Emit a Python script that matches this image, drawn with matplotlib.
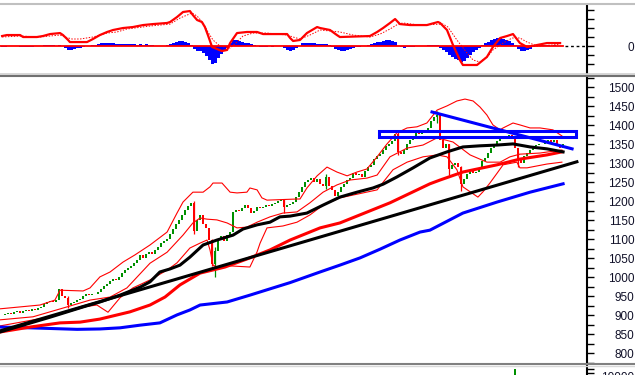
import numpy as np
import matplotlib.pyplot as plt
from matplotlib.lines import Line2D
from matplotlib.patches import Rectangle

plt.rcParams['font.family'] = ['Liberation Sans', 'DejaVu Sans']

# daily closes (index points), one per session
closes = [
    900, 903, 906, 904, 908, 911, 907, 912, 915, 912,
    916, 914, 918, 922, 930, 934, 937, 936, 941, 968,
    950, 945, 928, 932, 936, 940, 944, 950, 956, 953,
    957, 955, 962, 970, 976, 982, 990, 995, 992, 1000,
    1012, 1020, 1025, 1030, 1038, 1046, 1058, 1052, 1062, 1066,
    1060, 1072, 1080, 1090, 1096, 1102, 1115, 1128, 1140, 1150,
    1165, 1178, 1188, 1196, 1122, 1150, 1165, 1140, 1130, 1098,
    1035, 1070, 1100, 1108, 1095, 1112, 1118, 1172, 1178, 1175,
    1183, 1190, 1182, 1168, 1175, 1185, 1183, 1186, 1190, 1188,
    1192, 1196, 1200, 1203, 1185, 1190, 1192, 1198, 1210, 1225,
    1238, 1250, 1255, 1262, 1250, 1258, 1245, 1240, 1265, 1240,
    1230, 1215, 1225, 1238, 1245, 1255, 1262, 1275, 1270, 1272,
    1265, 1280, 1290, 1295, 1310, 1318, 1325, 1335, 1345, 1350,
    1358, 1378, 1330, 1325, 1335, 1352, 1360, 1372, 1380, 1377,
    1385, 1388, 1392, 1410, 1422, 1428, 1362, 1340, 1350, 1285,
    1295, 1300, 1290, 1245, 1258, 1272, 1280, 1275, 1278, 1288,
    1305, 1315, 1328, 1340, 1352, 1358, 1368, 1372, 1365, 1375,
    1370, 1340, 1310, 1300, 1318, 1328, 1335, 1345, 1348, 1352,
    1350, 1355, 1360, 1356, 1362, 1345, 1340, 1350,
]

# sessions with long shadows
wick_i = [22, 64, 70, 71, 94, 108, 132, 145, 149, 153, 172]
wick_hi = [950, 1200, 1100, 1080, 1205, 1272, 1382, 1437, 1352, 1292, 1330]
wick_lo = [918, 1115, 1030, 1002, 1168, 1232, 1322, 1405, 1268, 1228, 1290]

# bollinger bands (session, price)
bb_up_x = [-0.7, 12.6, 17.6, 19.3, 27, 29.3, 32.6, 36, 40.3, 44.3, 49.3, 55, 58.3, 60.3, 63.6,
           67, 69.3, 70.3, 73.3, 76, 78.3, 81.6, 82.6, 85, 86.6, 88.3, 98.3, 99.3, 101.6, 105,
           108.3, 111.6, 115, 118.3, 121.6, 125, 128.3, 131.6, 135, 138.3, 141.6, 145, 148.3,
           151.6, 154.3, 157, 159.3, 161.6, 163.6, 166, 167, 170.3, 172.6, 176, 179.3, 183.6, 186.6]
bb_up = [917, 927, 940, 966, 964, 972, 1001, 1014, 1040, 1059, 1085, 1119, 1169, 1198, 1224,
         1224, 1238, 1248, 1248, 1224, 1222, 1224, 1235, 1230, 1209, 1203, 1206, 1206, 1235, 1267,
         1290, 1277, 1267, 1277, 1285, 1317, 1351, 1380, 1393, 1396, 1406, 1440, 1451,
         1464, 1469, 1464, 1448, 1427, 1401, 1388, 1393, 1406, 1401, 1393, 1393, 1388, 1372]
bb_mid_x = [-0.7, 10.3, 21.6, 29.3, 36, 41.6, 49.3, 55, 60.3, 63.6, 66, 68.3, 71.6, 75, 78.3,
            81.6, 85, 89.3, 93.6, 98.3, 102.6, 107, 111.6, 116, 121.6, 125, 129.3, 135, 140.3,
            145, 150.3, 156, 161.6, 166, 169.3, 172.6, 179.3, 186.6]
bb_mid = [888, 896, 922, 940, 948, 972, 1037, 1066, 1111, 1143, 1156, 1153, 1151, 1143, 1130,
          1132, 1145, 1159, 1169, 1172, 1196, 1224, 1243, 1256, 1261, 1269, 1317, 1340, 1348,
          1367, 1356, 1322, 1303, 1303, 1317, 1324, 1327, 1335]
bb_lo_x = [-0.7, 16, 27, 31.6, 35.3, 39.3, 43.6, 49.3, 55, 58.3, 62.6, 66, 68.3, 69.3, 70.3,
           71.6, 76, 82.6, 85, 86, 88.3, 93.6, 98.3, 102.6, 107, 112.6, 120.3, 125, 130.3, 135,
           140.3, 145, 148.3, 151.6, 153.6, 156, 158.6, 160.3, 162.6, 165, 167, 171.6, 172.6,
           175, 181.6, 186.6]
bb_lo = [872, 896, 922, 927, 908, 946, 972, 993, 1019, 1038, 1077, 1090, 1098, 1072, 1032,
         1027, 1030, 1027, 1067, 1090, 1130, 1135, 1145, 1164, 1190, 1209, 1222, 1230, 1283, 1303,
         1317, 1322, 1317, 1283, 1238, 1225, 1211, 1225, 1248, 1274, 1296, 1303, 1288,
         1288, 1298, 1303]

# moving averages (session, price)
ma_blk_x = [-0.7, 16, 27, 32.6, 39.3, 46, 49.3, 52.6, 56, 59.3, 62.6, 67, 71.6, 77, 80.3, 85,
            89.3, 92.6, 96, 101.6, 107, 112.6, 118.3, 123.6, 127, 131.6, 137, 142.6, 148.3,
            153.6, 159.3, 165, 170.3, 176, 181.6, 187]
ma_blk = [856, 895, 922, 935, 953, 974, 988, 1014, 1022, 1032, 1053, 1085, 1098, 1111, 1127, 1138,
          1145, 1159, 1161, 1169, 1190, 1211, 1224, 1235, 1245, 1264, 1288, 1314, 1330,
          1343, 1346, 1348, 1351, 1343, 1338, 1330]
ma_red_x = [-0.7, 9.3, 19.3, 26, 32.6, 42.6, 49.3, 54.3, 59.3, 66, 74.3, 82.6, 89.3, 96, 106,
            112.6, 129.3, 142.6, 146, 153.6, 165, 172.6, 181.6, 186.6]
ma_red = [856, 869, 880, 882, 890, 909, 927, 948, 980, 1011, 1027, 1051, 1072, 1098, 1130,
          1143, 1196, 1246, 1256, 1277, 1296, 1311, 1322, 1330]
ma_blu_x = [-0.7, 9.3, 25, 32.6, 39.3, 46, 52.6, 58.3, 62.6, 66, 75, 82.6, 90.3, 96, 106, 112.6,
            119.3, 126, 132.6, 139.3, 142.6, 153.6, 165, 176, 187]
ma_blu = [869, 867, 863, 864, 867, 874, 880, 901, 914, 927, 935, 953, 972, 986, 1014, 1032,
          1051, 1074, 1098, 1119, 1124, 1169, 1198, 1224, 1246]

# drawn trend lines and resistance zone
trend_up_x, trend_up = [-0.7, 191.6], [859, 1304]
trend_dn_x, trend_dn = [143.3, 190], [1435, 1338]
zone_x, zone_y = [125.5, 191.3], [1369, 1384]

# MACD panel
macd_x = [0, 1.6, 6, 7, 11.6, 13.6, 16, 19.3, 20.3, 22, 22.6, 28.3, 30.3, 32.6, 35, 37, 40.3,
          43.6, 47, 50.3, 55, 56, 58.3, 60.3, 62.6, 63.6, 65, 66.6, 67.6, 68.6, 70, 73.3, 75, 76,
          78.3, 81.6, 85, 87, 95, 96, 97, 99.3, 101.6, 105, 106, 109.3, 111.6, 112.6, 122.6, 125,
          127, 129.3, 131, 132.6, 136, 141.6, 145.3, 146, 148.3, 150.3, 152.6, 153.6, 158.3,
          161.6, 163.6, 166, 168.3, 170.3, 172.6, 175, 178.3, 181.6, 186]
macd = [11.1, 12.2, 12.2, 10, 10, 11.1, 13.3, 14.4, 12.2, 6.7, 4.4, 4.4, 7.8, 12.2, 15.6, 17.8, 20,
        21.1, 23.3, 24.4, 25.6, 26.7, 32.2, 37.8, 38.9, 34.4, 28.9, 26.7, 21.1, 12.2, -1.1, -5.6, -4.4, 3.3,
        14.4, 15.6, 15.6, 13.3, 13.3, 8.9, 5.6, 6.7, 14.4, 21.1, 20, 17.8, 12.2, 10, 11.1, 15.6,
        20, 25.6, 30, 24.4, 23.3, 23.3, 26.7, 25.6, 17.8, 1.1, -15.6, -21.1, -21.1,
        -12.2, -1.1, 8.9, 11.1, 13.3, 3.3, -1.1, 1.1, 3.3, 3.3]
sig_x = [0, 6, 12.6, 19.3, 21, 23.3, 26, 30.3, 35, 38.3, 41.6, 49.3, 56, 59.3, 63.3, 65, 67, 68.6,
         70.3, 72.6, 76, 78.3, 80.3, 83.6, 88.3, 95, 97, 99.3, 102.6, 106, 109.3, 112.6, 117, 122.6,
         126, 129.3, 132, 133.6, 139.3, 147, 148.6, 151.6, 155, 157, 159.3, 162, 163.6, 167, 170,
         172.6, 175, 178.3, 183.6, 186]
sig = [10, 11.1, 10, 12.2, 10, 7.8, 7.8, 10, 14.4, 15.6, 18.9, 22.2, 24.4, 31.1, 36.7, 33.3, 25.6, 15.6,
       6.7, 0, -2.2, 4.4, 11.1, 14.4, 14.4, 12.2, 10, 7.8, 12.2, 17.8, 16.7, 15.6, 12.2, 10,
       13.3, 18.9, 24.4, 25.6, 23.3, 24.4, 21.1, 6.7, -7.8, -15.6, -17.8, -11.1, -4.4, 3.3, 8.9,
       8.9, 4.4, 0, 1.1, 2.2]
hist = [
    -1, -1, 0, 0, 0, 0, -1, -1, -1, -1,
    -1, 0, 0, 0, 1, 1, 1, 1, 0, 1,
    0, -2, -4, -4, -3, -2, -2, -1, 0, 0,
    1, 1, 2, 3, 3, 3, 3, 3, 2, 2,
    2, 2, 2, 2, 2, 1, 2, 1, 2, 1,
    1, 0, 0, 0, 0, 1, 2, 3, 4, 6,
    6, 4, 3, 1, -3, -6, -6, -8, -11, -16,
    -20, -19, -13, -9, -6, -2, 3, 7, 7, 6,
    4, 3, 3, 2, 1, 0, -1, -1, -1, 0,
    -1, 0, 0, 0, -2, -4, -6, -4, -2, 0,
    3, 3, 3, 3, 3, 2, 2, 2, 2, 1,
    -1, -3, -4, -6, -6, -4, -3, -2, -1, -1,
    0, 0, 1, 2, 3, 4, 4, 6, 7, 7,
    6, 4, 0, -1, -2, -1, -1, -1, 0, 0,
    0, 0, 1, 1, 1, 1, -2, -4, -7, -10,
    -12, -14, -16, -18, -17, -13, -10, -7, -4, -2,
    1, 3, 4, 7, 8, 9, 9, 8, 7, 6,
    3, 1, -3, -6, -6, -4, -3, -1, 1, 1,
    1, 1, 1, 0, 1, 0, 0, 0,
]

# volume panel (only the top of the tallest bar shows)
vol_x = [171]
vol = [10750]

W, H = 635, 375
fig = plt.figure(figsize=(W / 100, H / 100), dpi=100)


def panel(top, bottom):
    return fig.add_axes([0, 1 - bottom / H, 587 / W, (bottom - top) / H])


ax_m = panel(5, 73)
ax = panel(76, 364)
ax_v = panel(366, 420)

xmin, xmax = -0.7, 587 / 3 - 0.7


def style(a, ticks, labels):
    for s in ['top', 'left', 'bottom']:
        a.spines[s].set_visible(False)
    a.spines['right'].set_linewidth(1.5)
    a.set_xlim(xmin, xmax)
    a.set_xticks([])
    a.yaxis.tick_right()
    a.set_yticks(ticks)
    a.set_yticklabels(labels)
    a.tick_params(axis='y', direction='out', length=5, width=1, pad=29,
                  labelsize=8.5, labelcolor='#101028')
    for t in a.get_yticklabels():
        t.set_horizontalalignment('right')


# candles
x = np.arange(len(closes))
c = np.array(closes, dtype=float)
o = np.r_[c[0], c[:-1]]
up = c >= o
col = np.where(up, '#009000', '#ff0000')
ax.vlines(wick_i, wick_lo, wick_hi, colors=col[wick_i], lw=0.9, zorder=2)
ax.bar(x, np.maximum(np.abs(c - o), 2), bottom=np.minimum(o, c), width=0.7,
       color=col, linewidth=0, zorder=2)

# bands and averages
for bx, by in [(bb_up_x, bb_up), (bb_mid_x, bb_mid), (bb_lo_x, bb_lo)]:
    ax.plot(bx, by, color='#ff0000', lw=0.8, zorder=3)
ax.plot(ma_blu_x, ma_blu, color='#0000ff', lw=2.2, zorder=4)
ax.plot(ma_red_x, ma_red, color='#ff0000', lw=2.2, zorder=4)
ax.plot(ma_blk_x, ma_blk, color='#000000', lw=2.2, zorder=4)
ax.plot(trend_up_x, trend_up, color='#000000', lw=2.2, zorder=5)
ax.plot(trend_dn_x, trend_dn, color='#0000ff', lw=2.2, zorder=5)
ax.add_patch(Rectangle((zone_x[0], zone_y[0]), zone_x[1] - zone_x[0], zone_y[1] - zone_y[0],
                       fill=False, edgecolor='#0000ff', lw=2.2, zorder=6))

ax.set_ylim(771.8, 1529.7)
pt = list(range(775, 1526, 25))
style(ax, pt, [str(v) if v % 50 == 0 else '' for v in pt])

# MACD
ax_m.bar(np.arange(len(hist)), hist, width=1.0, color='#0000ff', linewidth=0, zorder=2)
ax_m.plot([xmin, len(hist) - 1], [0, 0], color='#ff0000', lw=1.3, zorder=3)
ax_m.plot([len(hist) - 0.3, xmax], [0, 0], color='#000000', lw=1, ls=(0, (2, 2)), zorder=3)
ax_m.plot(sig_x, sig, color='#ff0000', lw=0.7, ls=(0, (1.5, 1.5)), zorder=4)
ax_m.plot(macd_x, macd, color='#ff0000', lw=1.6, zorder=5)
ax_m.set_ylim(-30, 45.6)
mt = [-20, -10, 0, 10, 20, 30, 40]
style(ax_m, mt, ['0' if v == 0 else '' for v in mt])

# volume
ax_v.bar(vol_x, vol, width=0.5, color='#009000', linewidth=0)
ax_v.set_ylim(5650, 11050)
vt = [10000, 10400, 10800]
style(ax_v, vt, ['10000', '', ''])

# panel separators
for yy, cc, lw in [(3.5, '#c0c0c0', 1.5), (73.5, '#d0d0d0', 1.2), (75.5, '#707070', 1.5),
                   (363.8, '#808080', 1.5), (365.5, '#d8d8d8', 1)]:
    fig.add_artist(Line2D([0, 1], [1 - yy / H] * 2, transform=fig.transFigure,
                          color=cc, lw=lw))

fig.savefig('out.png', dpi=100)
